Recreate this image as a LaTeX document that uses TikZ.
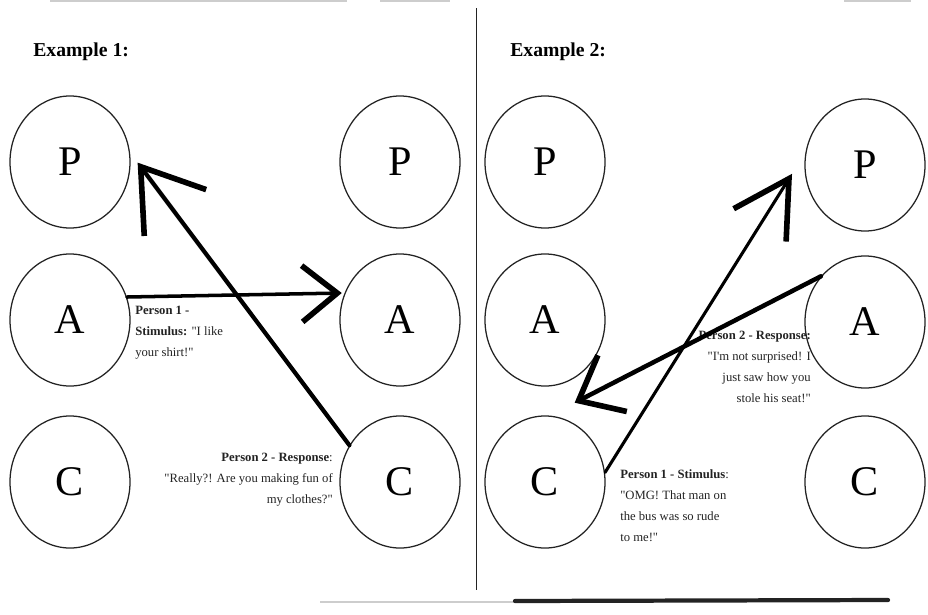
\documentclass[tikz,border=0pt]{standalone}
\usepackage{fontspec}
\setmainfont{Liberation Serif}[Ligatures=TeXOff]
\usetikzlibrary{arrows.meta,shapes.geometric,calc}
\definecolor{inkgray}{RGB}{35,35,35}
\definecolor{scanshade}{RGB}{205,205,205}

\begin{document}
\begin{tikzpicture}[x=0.025cm, y=-0.025cm,
        ego/.style={ellipse, draw=inkgray, line width=0.9pt, minimum width=3cm,
                    minimum height=3.3cm, inner sep=0pt, font=\fontsize{30}{32}\selectfont},
        heading/.style={anchor=west, inner sep=0pt, font=\fontsize{14}{16}\selectfont\bfseries},
        remark/.style={inner sep=0pt, text=inkgray, font=\fontsize{9}{15}\selectfont},
        handarrow/.style n args={3}{line width=#3, line cap=round,
                    -{Straight Barb[length=#1, width=#2, line width=4pt]}}
    ]
    \useasboundingbox (0,0) rectangle (928,614);

    \node[heading] (ex1) at (33,52) {Example 1:};
    \node[heading] (ex2) at (510,52) {Example 2:};

    \node[ego] (p1) at (70,162) {P};
    \node[ego] (a1) at (70,320) {A};
    \node[ego] (c1) at (70,482) {C};
    \node[ego] (p2) at (400,162) {P};
    \node[ego] (a2) at (400,320) {A};
    \node[ego] (c2) at (400,482) {C};

    \node[ego] (p3) at (545,162) {P};
    \node[ego] (a3) at (545,320) {A};
    \node[ego] (c3) at (545,482) {C};
    \node[ego] (p4) at (865,165) {P};
    \node[ego] (a4) at (865,322) {A};
    \node[ego] (c4) at (865,482) {C};

    \draw[inkgray, line width=0.6pt] (476,8) -- (476,590);

    \node[remark, anchor=north west, align=left] (stim1) at (135,306)
      {\textbf{Person 1 -}\\\textbf{Stimulus:} "I like\\your shirt!"};
    \node[remark, anchor=north east, align=right] (resp1) at (333,453)
      {\textbf{Person 2 - Response}:\\"Really?! Are you making fun of\\my clothes?"};
    \node[remark, anchor=north east, align=right] (resp2) at (811,331)
      {\textbf{Person 2 - Response:}\\"I'm not surprised! I\\just saw how you\\stole his seat!"};
    \node[remark, anchor=north west, align=left] (stim2) at (620,469)
      {\textbf{Person 1 - Stimulus}:\\"OMG! That man on\\the bus was so rude\\to me!"};

    \draw[handarrow={25pt}{40pt}{2.5pt}, shorten >=2pt] (a1.22) -- (a2.154);
    \draw[handarrow={41pt}{55pt}{3pt}, shorten >=9pt] (c2.144) -- (p1.9);
    \draw[handarrow={39pt}{44pt}{2.2pt}, shorten >=18pt] (c3.9) -- (p4.168);
    \draw[handarrow={27pt}{45pt}{3.2pt}, shorten >=20pt] (a4.134) -- (c3.86);

    \draw[scanshade, line width=1pt] (50,1) -- (347,1);
    \draw[scanshade, line width=1pt] (380,1) -- (450,1);
    \draw[scanshade, line width=1pt] (844,1) -- (911,1);
    \draw[scanshade, line width=1pt] (320,602) -- (515,602);
    \draw[inkgray, line width=3pt, line cap=round] (515,601) -- (888,600);
\end{tikzpicture}
\end{document}
